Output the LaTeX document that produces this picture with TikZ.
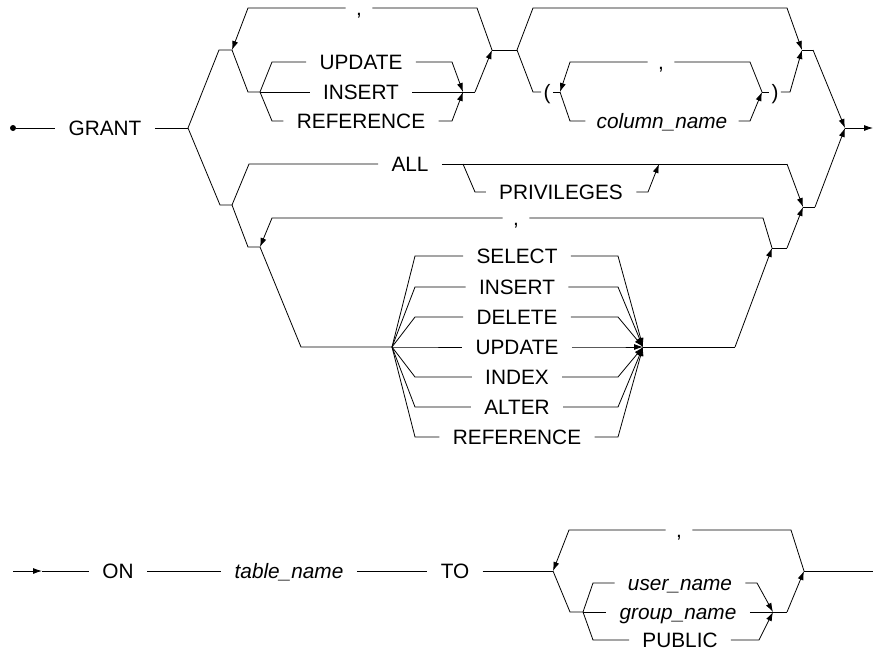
\documentclass[tikz,border=0pt]{standalone}
\usepackage{fontspec}
\setmainfont{Liberation Sans}
\usetikzlibrary{arrows.meta}
\begin{document}
\begin{tikzpicture}[x=1pt,y=-1pt,>={Latex[length=9pt,width=6pt]},line width=0.8pt,
  kw/.style={inner xsep=13pt,inner ysep=0pt,text height=14.9pt,text depth=0pt,font=\fontsize{20.8}{25}\selectfont},
  var/.style={kw,font=\fontsize{20.8}{25}\selectfont\itshape},
  sepkw/.style={kw,inner xsep=10pt},
  parkw/.style={kw,inner xsep=2pt}]
\useasboundingbox (0,0) rectangle (874,651);

\node[circle,fill,inner sep=0pt,minimum size=6pt] (start) at (13,128) {};
\node[kw] (grant) at (105,128) {GRANT};
\coordinate (j0) at (188,128);
\draw (start) -- (grant);
\draw (grant) -- (j0);

\coordinate (a1) at (219,50);
\coordinate (a2) at (232,50);
\coordinate (t1) at (248,8);
\coordinate (t2) at (477,8);
\node[sepkw] (comma1) at (359,8) {,};
\coordinate (a3) at (248,92);
\coordinate (a4) at (260,92);
\coordinate (u1) at (272,62);
\coordinate (u2) at (452,62);
\coordinate (r1) at (272,121);
\coordinate (r2) at (452,121);
\coordinate (a5) at (463,92);
\coordinate (a6) at (475,92);
\coordinate (a7) at (492,50);
\coordinate (a8) at (517,50);
\node[kw] (upd1) at (361,62) {UPDATE};
\node[kw] (ins1) at (361,92) {INSERT};
\node[kw] (ref1) at (361,121) {REFERENCE};

\draw (j0) -- (a1) -- (a2);
\draw (a7) -- (t2) -- (comma1);
\draw[->] (comma1) -- (t1) -- (a2);
\draw (a2) -- (a3) -- (a4) -- (u1) -- (upd1);
\draw[->] (upd1) -- (u2) -- (a5);
\draw (a4) -- (ins1);
\draw (ins1) -- (a6);
\draw (a4) -- (r1) -- (ref1);
\draw[->] (ref1) -- (r2) -- (a5);
\draw[->] (a6) -- (a7);
\draw (a7) -- (a8);

\coordinate (b1) at (533,8);
\coordinate (b2) at (787,8);
\coordinate (b3) at (802,50);
\coordinate (b4) at (813,50);
\coordinate (jend) at (845,128);
\coordinate (fin) at (873,128);
\coordinate (c0) at (533,92);
\node[parkw] (lpar) at (547,92) {(};
\coordinate (c2) at (560,92);
\coordinate (ct1) at (570,62);
\node[sepkw] (comma2) at (661,62) {,};
\coordinate (ct2) at (750,62);
\coordinate (c3) at (762,92);
\coordinate (cn1) at (570,121);
\node[var,inner xsep=11pt] (colname) at (662,121) {column\_name};
\coordinate (cn2) at (750,121);
\node[parkw] (rpar) at (775,92) {)};
\coordinate (c4) at (790,92);

\draw[->] (a8) -- (b1) -- (b2) -- (b3);
\draw (a8) -- (c0) -- (lpar);
\draw (lpar) -- (c2);
\draw (c3) -- (ct2) -- (comma2);
\draw[->] (comma2) -- (ct1) -- (c2);
\draw (c2) -- (cn1) -- (colname);
\draw[->] (colname) -- (cn2) -- (c3);
\draw (c3) -- (rpar);
\draw[->] (rpar) -- (c4) -- (b3);
\draw (b3) -- (b4);
\draw[->] (b4) -- (jend);
\draw[->] (jend) -- (fin);

\coordinate (d1) at (220,205);
\coordinate (d2) at (232,205);
\coordinate (e1) at (249,164);
\node[kw] (allkw) at (410,164) {ALL};
\coordinate (p0) at (463,164);
\coordinate (p1) at (475,192);
\node[kw] (privs) at (561,192) {PRIVILEGES};
\coordinate (p2) at (648,192);
\coordinate (p3) at (659,164);
\coordinate (e2) at (787,164);
\coordinate (f3) at (803,207);
\coordinate (f4) at (815,207);

\draw (j0) -- (d1) -- (d2) -- (e1) -- (allkw);
\draw (allkw) -- (e2);
\draw[->] (e2) -- (f3);
\draw (p0) -- (p1) -- (privs);
\draw[->] (privs) -- (p2) -- (p3);
\draw (f3) -- (f4);
\draw[->] (f4) -- (jend);

\coordinate (g1) at (248,247);
\coordinate (g2) at (260,247);
\coordinate (gt1) at (272,218);
\node[sepkw] (comma3) at (516,218) {,};
\coordinate (gt2) at (763,218);
\coordinate (g3) at (301,347);
\coordinate (g4) at (392,347);
\coordinate (g5) at (643,347);
\coordinate (g6) at (735,347);
\coordinate (g9) at (772,248);
\coordinate (g10) at (787,248);

\draw (d2) -- (g1) -- (g2) -- (g3) -- (g4);
\draw (g9) -- (gt2) -- (comma3);
\draw[->] (comma3) -- (gt1) -- (g2);
\foreach \w/\y [count=\i] in {SELECT/256,INSERT/287,DELETE/317,UPDATE/347,INDEX/377,ALTER/407,REFERENCE/437} {
  \node[kw] (op\i) at (517,\y) {\w};
  \coordinate (ol\i) at (415,\y);
  \coordinate (or\i) at (618,\y);
  \draw (g4) -- (ol\i) -- (op\i);
  \draw[->] (op\i) -- (or\i) -- (g5);
}
\draw (g5) -- (g6);
\draw[->] (g6) -- (g9);
\draw (g9) -- (g10);
\draw[->] (g10) -- (f3);

\coordinate (h0) at (13,571);
\coordinate (h1) at (42,571);
\node[kw] (onkw) at (118,571) {ON};
\node[var] (tname) at (289,571) {table\_name};
\node[kw] (tokw) at (455,571) {TO};
\coordinate (k0) at (553,571);
\coordinate (kt1) at (569,530);
\node[sepkw] (comma4) at (679,530) {,};
\coordinate (kt2) at (791,530);
\coordinate (k1) at (570,612);
\coordinate (k2) at (583,612);
\coordinate (k3) at (773,612);
\coordinate (k4) at (787,612);
\coordinate (k5) at (804,571);
\coordinate (kend) at (873,571);
\coordinate (q1l) at (593,583);
\coordinate (q1r) at (757,583);
\coordinate (q3l) at (593,640);
\coordinate (q3r) at (759,640);
\node[var] (uname) at (680,583) {user\_name};
\node[var] (gname) at (678,612) {group\_name};
\node[kw] (pub) at (680,640) {PUBLIC};

\draw[->] (h0) -- (h1);
\draw (h1) -- (onkw);
\draw (onkw) -- (tname);
\draw (tname) -- (tokw);
\draw (tokw) -- (k0);
\draw (k5) -- (kt2) -- (comma4);
\draw[->] (comma4) -- (kt1) -- (k0);
\draw (k0) -- (k1) -- (k2);
\draw (k2) -- (q1l) -- (uname);
\draw[->] (uname) -- (q1r) -- (k3);
\draw (k2) -- (gname);
\draw (gname) -- (k4);
\draw (k2) -- (q3l) -- (pub);
\draw[->] (pub) -- (q3r) -- (k3);
\draw[->] (k4) -- (k5);
\draw (k5) -- (kend);
\end{tikzpicture}
\end{document}
